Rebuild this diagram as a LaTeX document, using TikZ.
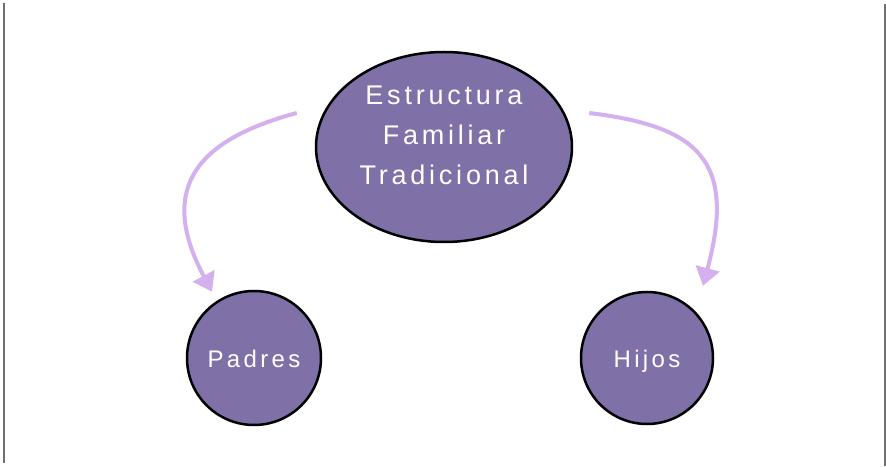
\documentclass[tikz,border=0pt]{standalone}
\usepackage{fontspec}
\setmainfont{Liberation Sans}[LetterSpace=14]
\usepackage{xcolor}
\usetikzlibrary{arrows.meta, positioning, shapes}
\definecolor{morado}{HTML}{8070A8}
\definecolor{lila}{HTML}{D4B0EE}
\definecolor{borde}{HTML}{707070}
\tikzset{
circulo/.style={
  draw=black, line width=2.5pt, fill=morado, circle, inner sep=0pt,
  text=white, align=center, font=\fontsize{24}{40}\selectfont
},
flecha/.style={draw=lila, line width=4pt, -{Triangle[length=18pt,width=24pt]}},
linea/.style={draw=borde, line width=1.8pt},
}

\begin{document}
\begin{tikzpicture}[x=1pt,y=1pt]
  \useasboundingbox[fill=white] (0,0) rectangle (886,466);
  \draw[linea] (4,3) -- (4,463);
  \draw[linea] (885,0) -- (885,462);

  \node[circulo, ellipse, minimum width=256pt, minimum height=190pt,
        font=\fontsize{27}{40}\selectfont] (fam) at (444,319)
    {\raisebox{4.5pt}[0pt][0pt]{\begin{tabular}{@{}c@{}}
      Estructura\\ Familiar\\ Tradicional
    \end{tabular}}};
  \node[circulo, minimum size=134pt] (padres) at (254,108) {\raisebox{-10pt}[0pt][0pt]{Padres}};
  \node[circulo, minimum size=132pt] (hijos) at (647,108) {\raisebox{-10pt}[0pt][0pt]{Hijos}};

  % flechas
  \draw[flecha] ([shift={(-18pt,34pt)}]fam.west)
    to[out=195, in=118, out distance=100pt, in distance=120pt] ([shift={(-42pt,-2pt)}]padres.north);
  \draw[flecha] ([shift={(16pt,34pt)}]fam.east)
    to[out=-7, in=75, out distance=110pt, in distance=130pt] ([shift={(56pt,5pt)}]hijos.north);
\end{tikzpicture}
\end{document}
